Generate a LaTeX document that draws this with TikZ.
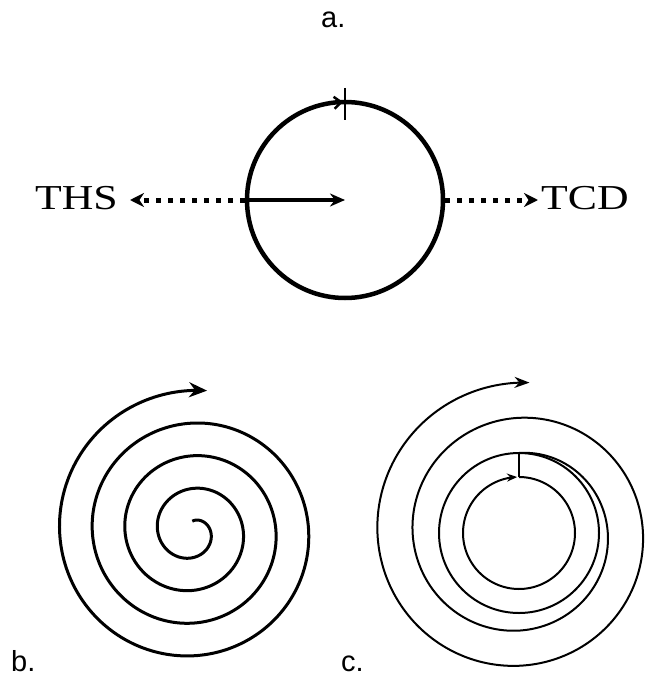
\documentclass[tikz,border=0pt]{standalone}
\usepackage{fontspec}
\setmainfont[FakeStretch=1.25]{Liberation Serif}
\newfontfamily\letterfont{Liberation Sans}
\usetikzlibrary{arrows.meta}

\tikzset{
  heavy/.style={line width=4.5pt},
  ring/.style={line width=2pt},
  dots/.style={line width=5pt, dash pattern=on 5pt off 7pt,
    -{Stealth[length=14pt,width=14pt]}},
  letter/.style={font=\letterfont\fontsize{29}{29}\selectfont, inner sep=0pt, anchor=base west},
  term/.style={font=\fontsize{35}{35}\selectfont, inner sep=0pt},
}

\begin{document}
\begin{tikzpicture}[>=stealth, x=1pt, y=-1pt]
\useasboundingbox (0,0) rectangle (646,677);
% a.
\node[letter] (la) at (321,28) {a.};
\node[draw, circle, heavy, minimum size=196pt, inner sep=0pt] (wheel) at (345,200) {};
\node[term, anchor=base east] (ths) at (118,209) {THS};
\node[term, anchor=base west] (tcd) at (541,209) {TCD};
\draw[heavy, -{Stealth[length=15pt,width=13pt]}] (wheel.west) -- (wheel.center);
\draw[dots, shorten >=12pt] (wheel.west) -- (wheel.west -| ths.east);
\draw[dots, shorten >=3pt] (wheel.east) -- (wheel.east -| tcd.west);
\draw[line width=2pt] ([yshift=12pt]wheel.north) -- ([yshift=-20pt]wheel.north);
\draw[line width=2.5pt, -{Straight Barb[length=7pt,width=12pt]}]
  ([xshift=-16pt,yshift=-3.5pt]wheel.north) -- ([xshift=-2pt,yshift=-2.2pt]wheel.north);
% b.
\node[letter] (lb) at (11,671) {b.};
\draw[line width=3pt, -{Stealth[length=18pt,width=15pt]}]
  plot[domain=-90:1356, samples=400, smooth]
  ({192.3+(18.3+0.0908*\x)*cos(\x)}, {531.3+(18.3+0.0908*\x)*sin(\x)});
% c.
\node[letter] (lc) at (341,671) {c.};
\draw[ring] (519,533) circle (80);
\draw[ring] (519,453) -- (519,477);
\draw[ring, -{Stealth[length=10pt,width=8pt]}]
  plot[domain=-90:268, samples=120, smooth] ({519+56*cos(\x)}, {533+56*sin(\x)});
\draw[ring, -{Stealth[length=15pt,width=11pt]}]
  plot[domain=-90:634, samples=300, smooth]
  ({519+(80+0.0977*(\x+90))*cos(\x)}, {533+(80+0.0977*(\x+90))*sin(\x)});
\end{tikzpicture}
\end{document}
